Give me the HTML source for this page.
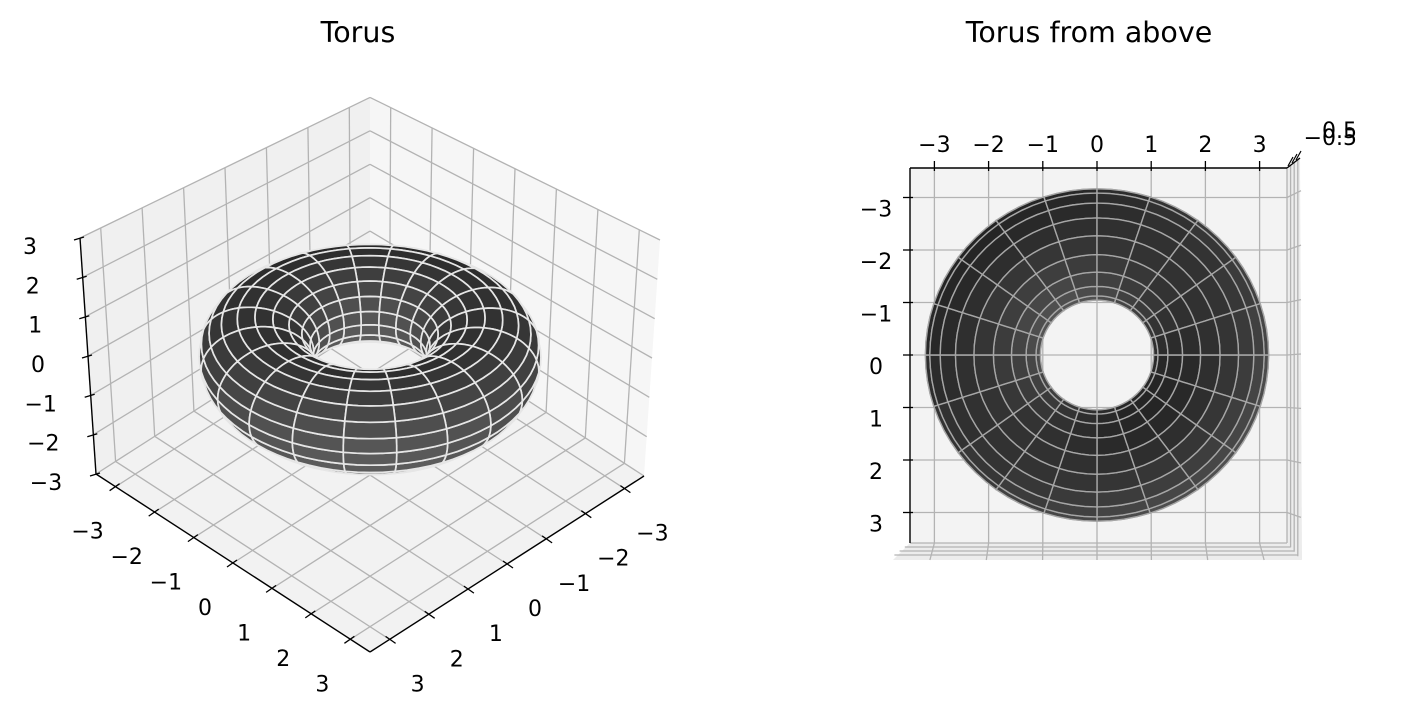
<!DOCTYPE html>
<html><head><meta charset="utf-8"><style>
html,body{margin:0;padding:0;background:#fff;}
svg{display:block;font-family:"DejaVu Sans","Liberation Sans",sans-serif;}
</style></head><body>
<svg id="fig" width="1412" height="721" viewBox="0 0 1412 721" xmlns="http://www.w3.org/2000/svg">
<rect width="1412" height="721" fill="#fff"/>
<text x="358" y="42" font-size="28.5" text-anchor="middle">Torus</text>
<text x="1089" y="42" font-size="28.5" text-anchor="middle">Torus from above</text>
<g id="left"></g>
<g id="right"></g>
</svg>
<script>
const xTicks = [-3,-2,-1,0,1,2,3];
const yTicks = [-3,-2,-1,0,1,2,3];
const zTicks = [-3,-2,-1,0,1,2,3];
const tickLabels = ["\u22123","\u22122","\u22121","0","1","2","3"];
const torusR = [2];
const torusr = [1];
const nU = [20];
const nV = [20];

const NS="http://www.w3.org/2000/svg";
function mk(tag,attrs,parent){const e=document.createElementNS(NS,tag);for(const k in attrs)e.setAttribute(k,attrs[k]);parent.appendChild(e);return e;}

const XL=3.5, ZL=3;
function PL(x,y,z){const X=x/XL,Y=y/XL,Zn=z/ZL;
  const sx=370+137*(X-Y)+(Zn+1)*(X-Y)*4;
  const sy=475+89*X+88*Y-(Zn+1)*118*(1+0.075*(X+Y));
  return [sx,sy];}
function depL(x,y,z){return (x+y)/Math.SQRT2*0.77+z*0.64;}
function PR(x,y,z){const k=1+0.09*(Math.max(z,-0.5)+0.5);return [1097+x*54.2*k,355+y*52.5*k];}

const L=document.getElementById('left'), Rg=document.getElementById('right');
function poly(pts,fill,stroke,sw,parent){return mk('polygon',{points:pts.map(p=>p[0].toFixed(1)+','+p[1].toFixed(1)).join(' '),fill:fill,stroke:stroke,'stroke-width':sw,'stroke-linejoin':'round'},parent);}
function line(a,b,stroke,sw,parent){return mk('line',{x1:a[0].toFixed(1),y1:a[1].toFixed(1),x2:b[0].toFixed(1),y2:b[1].toFixed(1),stroke:stroke,'stroke-width':sw},parent);}

let p;
p=poly([PL(-XL,-XL,-ZL),PL(XL,-XL,-ZL),PL(XL,XL,-ZL),PL(-XL,XL,-ZL)],'#f2f2f2','none',0,L);

p=poly([PL(-XL,-XL,-ZL),PL(-XL,XL,-ZL),PL(-XL,XL,ZL),PL(-XL,-XL,ZL)],'#f0f0f0','none',0,L);

p=poly([PL(-XL,-XL,-ZL),PL(XL,-XL,-ZL),PL(XL,-XL,ZL),PL(-XL,-XL,ZL)],'#f6f6f6','none',0,L);

const gc='#b3b3b3';
xTicks.forEach(t=>{
  let g=line(PL(t,-XL,-ZL),PL(t,XL,-ZL),gc,1.3,L);
  g=line(PL(t,-XL,-ZL),PL(t,-XL,ZL),gc,1.3,L);
});
yTicks.forEach(t=>{
  let g=line(PL(-XL,t,-ZL),PL(XL,t,-ZL),gc,1.3,L);
  g=line(PL(-XL,t,-ZL),PL(-XL,t,ZL),gc,1.3,L);
});
zTicks.forEach(t=>{
  let g=line(PL(-XL,XL,t),PL(-XL,-XL,t),gc,1.3,L);
  g=line(PL(-XL,-XL,t),PL(XL,-XL,t),gc,1.3,L);
});

function buildFaces(){
  const R=torusR[0], r=torusr[0], nu=nU[0], nv=nV[0], k=4;
  const f=[];
  const pt=(u,v)=>[(R+r*Math.cos(v))*Math.cos(u),(R+r*Math.cos(v))*Math.sin(u),r*Math.sin(v)];
  const Lx=0.6,Ly=0.6,Lz=-0.5,ln=Math.hypot(Lx,Ly,Lz);
  for(let i=0;i<nu;i++)for(let j=0;j<nv;j++){
    const u0=2*Math.PI*i/nu,u1=2*Math.PI*(i+1)/nu,v0=2*Math.PI*j/nv,v1=2*Math.PI*(j+1)/nv;
    const um=(u0+u1)/2,vm=(v0+v1)/2;
    const n=[Math.cos(vm)*Math.cos(um),Math.cos(vm)*Math.sin(um),Math.sin(vm)];
    const d=(n[0]*Lx+n[1]*Ly+n[2]*Lz)/ln;
    const g=Math.round(36+56*(d+1)/2);
    const pts=[];
    for(let s=0;s<k;s++)pts.push(pt(u0+(u1-u0)*s/k,v0));
    for(let s=0;s<k;s++)pts.push(pt(u1,v0+(v1-v0)*s/k));
    for(let s=0;s<k;s++)pts.push(pt(u1-(u1-u0)*s/k,v1));
    for(let s=0;s<k;s++)pts.push(pt(u0,v1-(v1-v0)*s/k));
    f.push({pts:pts,c:pt(um,vm),g:g});
  }
  return f;
}
const faces=buildFaces();
function drawTorus(parent,proj,depth,edge,sw){
  const fs=faces.slice().sort((a,b)=>depth(...a.c)-depth(...b.c));
  fs.forEach(f=>{const col='rgb('+f.g+','+f.g+','+f.g+')';
    const e=poly(f.pts.map(q=>proj(...q)),col,edge,sw,parent);
    
    });
}
drawTorus(L,PL,depL,'#e6e6e6',1.7);

let a=line(PL(-XL,XL,-ZL),PL(XL,XL,-ZL),'#000',1.4,L);
a=line(PL(XL,-XL,-ZL),PL(XL,XL,-ZL),'#000',1.4,L);
a=line(PL(-XL,XL,-ZL),PL(-XL,XL,ZL),'#000',1.4,L);
const FS=22;
xTicks.forEach((t,i)=>{const q=PL(t,XL,-ZL);
  let tk=line([q[0]+4,q[1]-3],[q[0]-6,q[1]+4],'#000',1.3,L);
  const tx=mk('text',{x:(q[0]-28).toFixed(1),y:(q[1]+52).toFixed(1),'font-size':FS,'text-anchor':'middle'},L);tx.textContent=tickLabels[i];
  });
yTicks.forEach((t,i)=>{const q=PL(XL,t,-ZL);
  let tk=line([q[0]-4,q[1]-3],[q[0]+6,q[1]+4],'#000',1.3,L);
  const tx=mk('text',{x:(q[0]+28).toFixed(1),y:(q[1]+52).toFixed(1),'font-size':FS,'text-anchor':'middle'},L);tx.textContent=tickLabels[i];
  });
zTicks.forEach((t,i)=>{const q=PL(-XL,XL,t);
  let tk=line([q[0]+4,q[1]-1],[q[0]-6,q[1]+2],'#000',1.3,L);
  const tx=mk('text',{x:(q[0]-50).toFixed(1),y:(q[1]+16).toFixed(1),'font-size':FS,'text-anchor':'middle'},L);tx.textContent=tickLabels[i];
  });

const bx0=910,bx1=1287,by0=168,by1=543;
p=poly([[bx1,by0],[1300,158],[1302,560],[bx1,by1]],'#ececec','none',0,Rg);
p=poly([[bx0,by1],[bx1,by1],[1302,560],[893,560]],'#ececec','none',0,Rg);
p=mk('rect',{x:bx0,y:by0,width:bx1-bx0,height:by1-by0,fill:'#f3f3f3'},Rg);
[0,4,8,12].forEach(o=>{
  let g=line([bx1+o*0.9,by0-o*0.7],[bx1+o*0.9,by1+o*1.1],'#b3b3b3',1.3,Rg);
  g=line([bx0-o*1.3,by1+o],[bx1+o*0.9,by1+o],'#b3b3b3',1.3,Rg);
});
xTicks.forEach(t=>{const q=PR(t,0,-0.5);
  let g=line([q[0],by0],[q[0],by1],'#b3b3b3',1.3,Rg);
  g=line([q[0],by1],[q[0]+(q[0]-1097)*0.04-(t===0?0:Math.sign(t)*2),560],'#b3b3b3',1.3,Rg);});
yTicks.forEach(t=>{const q=PR(0,t,-0.5);
  let g=line([bx0,q[1]],[bx1,q[1]],'#b3b3b3',1.3,Rg);
  g=line([bx1,q[1]],[1301,q[1]-(q[1]-355)*0.02-10+(t+3)*3],'#b3b3b3',1.3,Rg);});
drawTorus(Rg,PR,(x,y,z)=>z,'#a6a6a6',1.4);
a=line([bx0,by0],[bx1,by0],'#000',1.4,Rg);
a=line([bx1,by0],[1300,158],'#000',1.4,Rg);
a=line([bx0,by0],[bx0,by1],'#000',1.4,Rg);
xTicks.forEach((t,i)=>{const q=PR(t,0,-0.5);
  let tk=line([q[0],by0+3],[q[0],by0-7],'#000',1.3,Rg);
  const tx=mk('text',{x:q[0].toFixed(1),y:152,'font-size':FS,'text-anchor':'middle'},Rg);tx.textContent=tickLabels[i];
  });
yTicks.forEach((t,i)=>{const q=PR(0,t,-0.5);
  let tk=line([bx0+3,q[1]],[bx0-7,q[1]],'#000',1.3,Rg);
  const tx=mk('text',{x:876,y:(q[1]+19).toFixed(1),'font-size':FS,'text-anchor':'middle'},Rg);tx.textContent=tickLabels[i];
  });
[[1290,162],[1294,159],[1298,156]].forEach(q=>{const tk=line([q[0]-2,q[1]+4],[q[0]+3,q[1]-5],'#000',1.2,Rg);});
let zt=mk('text',{x:1357,y:138,'font-size':FS,'text-anchor':'end'},Rg);zt.textContent='0.5';
zt=mk('text',{x:1357,y:145,'font-size':FS,'text-anchor':'end'},Rg);zt.textContent='\u22120.5';
</script>
</body></html>
